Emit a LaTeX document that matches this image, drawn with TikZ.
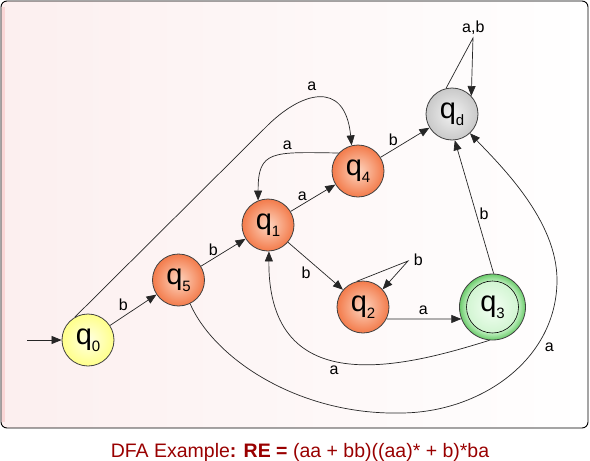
\documentclass[tikz,border=0pt]{standalone}
\usepackage{fontspec}
\setmainfont{Liberation Sans}
\usetikzlibrary{arrows.meta}
\definecolor{capred}{HTML}{990000}
\definecolor{bgL}{HTML}{FCEFEF}
\definecolor{stripc}{HTML}{FAD6D6}
\definecolor{orIn}{HTML}{FDD5C0}
\definecolor{orOut}{HTML}{F37B4B}
\definecolor{yIn}{HTML}{FFFFE4}
\definecolor{yOut}{HTML}{FFFF8A}
\definecolor{gIn}{HTML}{F2F2F2}
\definecolor{gOut}{HTML}{C9C9C9}
\definecolor{grIn}{HTML}{F4FFF4}
\definecolor{grOut}{HTML}{D2F5D2}
\definecolor{ringIn}{HTML}{BFEFBF}
\definecolor{ringOut}{HTML}{6ACB6A}
\pgfdeclareradialshading{qring}{\pgfpoint{0bp}{0bp}}{color(0bp)=(ringIn); color(19.5bp)=(ringIn); color(25bp)=(ringOut); color(50bp)=(ringOut)}
\newcommand\qsub[1]{q\raisebox{-6.7pt}{\fontsize{15}{15}\selectfont #1}}
\begin{document}
\begin{tikzpicture}[x=1pt,y=-1pt,
  state/.style={circle, draw=black!75, line width=0.8pt, minimum size=52pt, inner sep=0pt, font=\fontsize{29}{29}\selectfont},
  orst/.style={state, inner color=orIn, outer color=orOut},
  arr/.style={draw=black!85, line width=0.7pt, -{Triangle[length=10pt,width=8pt]}},
  lbl/.style={font=\fontsize{16}{16}\selectfont, inner sep=0pt, text=black}]
\useasboundingbox (0,0) rectangle (590,461);
% frame
\draw[black, line width=0.9pt, rounded corners=6pt, left color=bgL, right color=white] (1,1) rectangle (588,428);
\draw[stripc, line width=2.5pt] (3.6,7) -- (3.6,422);
% states
\node[state, inner color=yIn, outer color=yOut] (q0) at (88,340) {\qsub{0}};
\node[orst] (q5) at (178.5,280) {\qsub{5}};
\node[orst] (q1) at (268,225) {\qsub{1}};
\node[orst] (q4) at (358,171) {\qsub{4}};
\node[orst] (q2) at (363,307) {\qsub{2}};
\node[state, inner color=gIn, outer color=gOut] (qd) at (452,114) {\qsub{d}};
\node[circle, draw=black!75, line width=0.8pt, minimum size=66pt, inner sep=0pt, shading=qring] (q3) at (492.5,307) {};
\node[state, draw=black, line width=0.6pt, inner color=grIn, outer color=grOut] (q3i) at (q3.center) {\qsub{3}};
% connectors
\coordinate (start) at (27,340);
\draw[arr] (start) -- (q0);
\draw[arr] (q0) -- (q5) node[lbl] (l1) at (123.3,305) {b};
\draw[arr] (q5) -- (q1) node[lbl] (l2) at (213.3,249.3) {b};
\draw[arr] (q1) -- (q4) node[lbl] (l3) at (302.3,196) {a};
\draw[arr] (q4) -- (qd) node[lbl] (l4) at (393.3,139.3) {b};
\draw[arr] (q1) -- (q2) node[lbl] (l5) at (306,273) {b};
\draw[arr] (q2.-27.5) -- (q3.201) node[lbl] (l6) at (423.3,310) {a};
\draw[arr] (q3.88) -- (qd.-84) node[lbl] (l7) at (484,213.3) {b};
\draw[arr] (q4.137) .. controls (272,152) and (258,150) .. (q1.112) node[lbl] (l8) at (287.3,145) {a};
\draw[arr] (q0.120) -- (265,128) .. controls (300,92) and (345,78) .. (q4.104) node[lbl] (l9) at (311.7,86) {a};
\draw[arr] (q3.-95) .. controls (410,365) and (268,405) .. (q1.-88) node[lbl] (l10) at (334,370) {a};
\draw[arr] (q5.-64) .. controls (215,360) and (300,415) .. (400,413) .. controls (480,413) and (557,360) .. (557,280) .. controls (557,220) and (500,165) .. (qd.-47) node[lbl] (l11) at (549.3,347.3) {a};
\coordinate (loop2) at (408,261);
\draw[arr] (q2.104) -- (loop2) -- (q2.42) node[lbl] (l12) at (418.3,260) {b};
\coordinate (loopd) at (473,38);
\draw[arr] (qd.103) -- (loopd) -- (qd.43) node[lbl] (l13) at (473.3,28) {a,b};
% caption
\node[anchor=base, font=\fontsize{19.5}{20}\selectfont, text=capred, inner sep=0pt] (cap) at (300,457) {DFA Example\textbf{: RE =} (aa + bb)((aa)* + b)*ba};
\end{tikzpicture}
\end{document}
